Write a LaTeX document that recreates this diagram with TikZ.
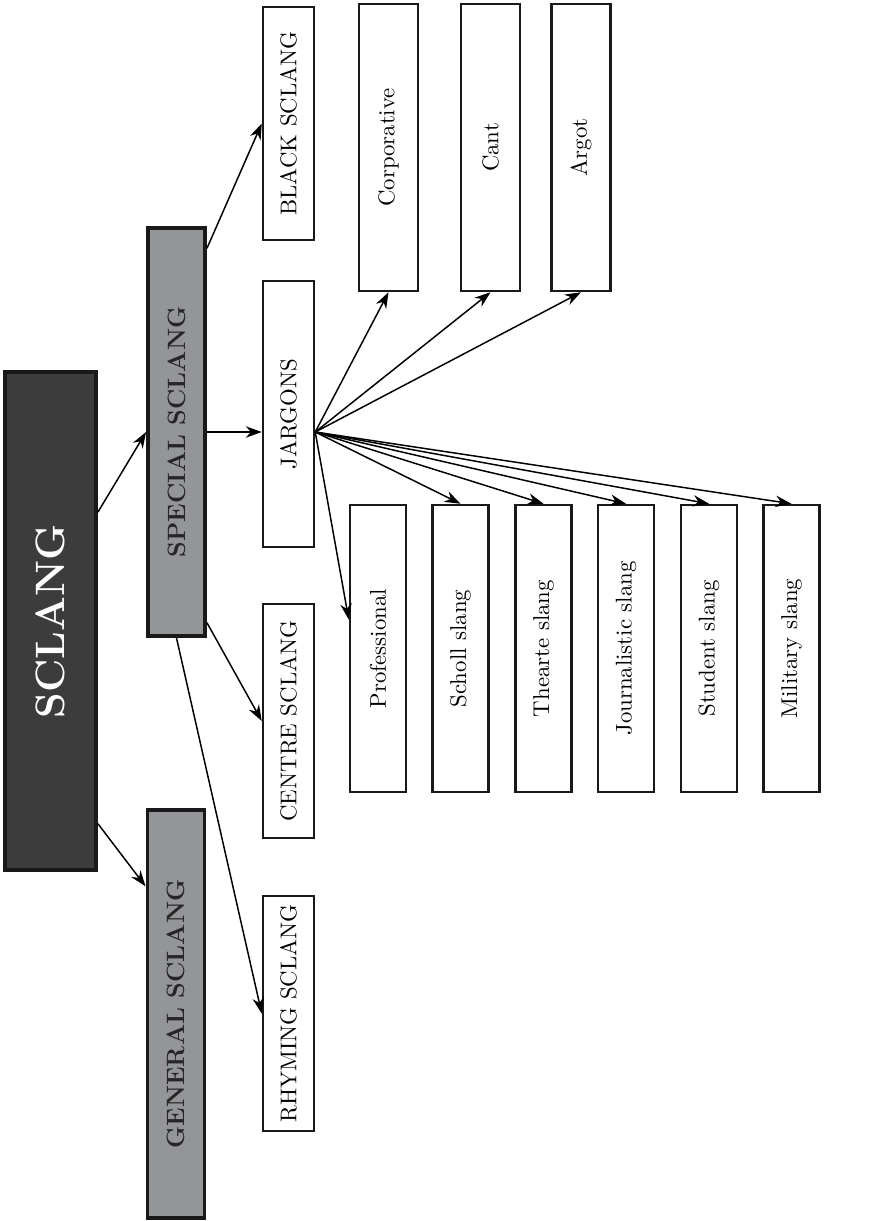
\documentclass[tikz,border=0pt]{standalone}
\usepackage{graphicx}
\usetikzlibrary{calc, arrows.meta}
\newlength{\pxu}
\setlength{\pxu}{0.4386pt}
\newcommand{\vtext}[1]{\rotatebox{90}{#1}}
\definecolor{darkbox}{HTML}{3C3C3C}
\definecolor{greybox}{HTML}{939598}
\tikzset{
    mainbox/.style={draw=black!90, line width=1.7pt, fill=darkbox, text=white, minimum width=91*\pxu, minimum height=498*\pxu, inner sep=0pt},
    catbox/.style={draw=black!90, line width=1.7pt, fill=greybox, text=black!85, minimum width=57*\pxu, minimum height=408*\pxu, inner sep=0pt},
    subbox/.style={draw=black!90, line width=1.1pt, fill=white, minimum width=51*\pxu, inner sep=0pt},
    leafbox/.style={draw=black!90, line width=1.1pt, fill=white, minimum width=56*\pxu, minimum height=287*\pxu, inner sep=0pt},
    arr/.style={-{Stealth[length=7pt,width=5pt]}, line width=0.65pt}
}

\begin{document}
\begin{tikzpicture}[x=0.4386pt, y=-0.4386pt]
            \useasboundingbox (0,0) rectangle (875,1221);
            \node[mainbox] (SCL) at (50.5,621) {\vtext{\fontsize{18}{22}\selectfont\bfseries SCLANG}};
            \node[catbox] (SPE) at (176.5,432) {\vtext{\fontsize{11}{13}\selectfont\bfseries SPECIAL SCLANG}};
            \node[catbox] (GEN) at (176,1014) {\vtext{\fontsize{11}{13}\selectfont\bfseries GENERAL SCLANG}};
            \node[subbox, minimum height=233*\pxu] (BLA) at (288.5,123.5) {\vtext{BLACK SCLANG}};
            \node[subbox, minimum height=266*\pxu] (JAR) at (288.5,414) {\vtext{JARGONS}};
            \node[subbox, minimum height=234*\pxu] (CEN) at (288.5,721) {\vtext{CENTRE SCLANG}};
            \node[subbox, minimum height=235*\pxu] (RHY) at (288.5,1013.5) {\vtext{RHYMING SCLANG}};
            \node[leafbox, minimum width=59*\pxu] (COR) at (388.5,147.5) {\vtext{Corporative}};
            \node[leafbox, minimum width=59*\pxu] (CAN) at (490.5,147.5) {\vtext{Cant}};
            \node[leafbox, minimum width=59*\pxu] (ARG) at (581,147.5) {\vtext{Argot}};
            \node[leafbox] (PRO) at (378,648.5) {\vtext{Professional}};
            \node[leafbox] (SCH) at (460.5,648.5) {\vtext{Scholl slang}};
            \node[leafbox] (THE) at (543.5,648.5) {\vtext{Thearte slang}};
            \node[leafbox] (JOU) at (626,648.5) {\vtext{Journalistic slang}};
            \node[leafbox] (STU) at (709,648.5) {\vtext{Student slang}};
            \node[leafbox] (MIL) at (791.5,648.5) {\vtext{Military slang}};
            \draw[arr] ($(SCL.north east)!0.283!(SCL.south east)$)--(SPE.west);
            \draw[arr] ($(SCL.north east)!0.904!(SCL.south east)$)--($(GEN.north west)!0.19!(GEN.south west)$);
            \draw[arr] ($(SPE.north east)!0.054!(SPE.south east)$)--(BLA.west);
            \draw[arr] (SPE.east)--(SPE.east -| JAR.west);
            \draw[arr] ($(SPE.north east)!0.963!(SPE.south east)$)--(CEN.west);
            \draw[arr] (SPE.south)--(RHY.west);
            \coordinate (H) at (JAR.east |- SPE.east);
            \foreach \n in {COR,CAN,ARG}
                \draw[arr] (H)--(\n.south);
            \draw[arr] (H)--($(PRO.north west)!0.4!(PRO.south west)$);
            \foreach \n in {SCH,THE,JOU,STU,MIL}
                \draw[arr] (H)--(\n.north);
        \end{tikzpicture}
\end{document}
